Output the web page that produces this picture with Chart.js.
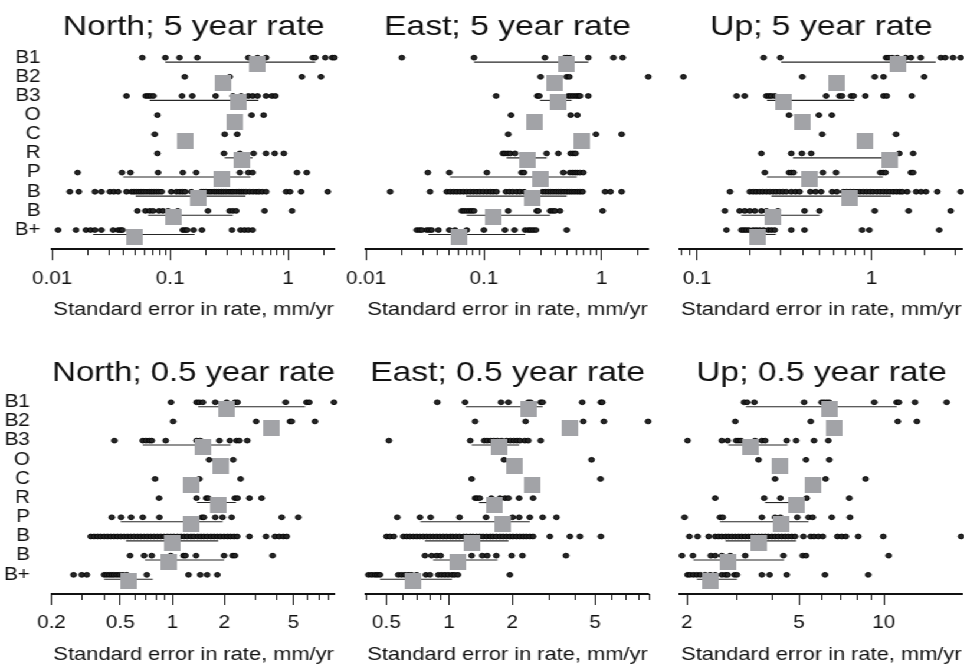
<!DOCTYPE html>
<html><head><meta charset="utf-8">
<script src="https://cdn.jsdelivr.net/npm/chart.js@4.4.1/dist/chart.umd.min.js"></script>
<style>
html,body{margin:0;padding:0;background:#fff;overflow:hidden;width:964px;height:665px}
#wrap{position:absolute;left:0;top:0;width:817px;height:665px;transform:scaleX(1.18);transform-origin:0 0}
#wrap canvas{position:absolute}
</style></head>
<body><div id="wrap"></div>
<script>
// ---------- DATA ----------
const rowNames = ["B1","B2","B3","O","C","R","P","B","B","B+"];
const axisTitle = "Standard error in rate, mm/yr";

// North; 5 year rate
const north5Dots = [
 [0.058,0.091,0.12,0.17,0.46,0.55,0.65,1.62,1.70,2.07,2.37,2.47],
 [0.133,0.32,1.31,1.90],
 [0.0426,0.062,0.065,0.068,0.072,0.126,0.154,0.243,0.34,0.40,0.46,0.50,0.55,0.65,0.73,0.78],
 [0.078,0.49,0.62],
 [0.074,0.29,0.37],
 [0.078,0.286,0.39,0.51,0.65,0.77,0.92],
 [0.0164,0.039,0.046,0.079,0.128,0.166,0.39,0.46,0.50,1.19,1.44],
 [0.0141,0.0168,0.023,0.0261,0.0308,0.0333,0.0362,0.0426,0.0469,0.0491,0.0517,0.0544,0.057,0.0597,0.0628,0.0662,0.0693,0.0725,0.0764,0.0804,0.0847,0.102,0.113,0.12,0.127,0.134,0.151,0.184,0.192,0.202,0.213,0.223,0.235,0.246,0.259,0.271,0.284,0.299,0.315,0.33,0.345,0.363,0.383,0.40,0.419,0.441,0.471,0.502,0.536,0.565,0.603,0.652,0.962,1.04,1.29,2.17],
 [0.0527,0.0616,0.0671,0.0716,0.0804,0.0869,0.0959,0.116,0.209,0.319,0.34,0.363,0.631,1.08],
 [0.0112,0.0159,0.0193,0.0211,0.023,0.0261,0.0328,0.0362,0.0379,0.0394,0.128,0.134,0.139,0.158,0.186,0.334,0.395,0.427,0.46,0.50]
];
const north5Median = [0.55,0.28,0.38,0.35,0.133,0.41,0.275,0.173,0.106,0.0494];
const north5Low  = [0.091,null,0.067,null,null,0.29,0.040,0.051,0.0649,0.0222];
const north5High = [1.70,null,0.56,null,null,0.50,0.48,0.435,0.34,0.161];
const north5Limits = [0.01,2.5];
const north5Ticks = [0.01,0.1,1];
const north5TickLabels = ["0.01","0.1","1"];
const north5Minor = [0.02,0.03,0.04,0.05,0.06,0.07,0.08,0.09,0.2,0.3,0.4,0.5,0.6,0.7,0.8,0.9,2];

// East; 5 year rate
const east5Dots = [
 [0.0201,0.0825,0.33,0.489,0.512,0.538,0.771,1.26,1.51],
 [0.303,0.505,0.532,2.49],
 [0.127,0.284,0.296,0.521,0.546,0.575,0.606,0.634,0.655,0.771],
 [0.17,0.546,0.622],
 [0.161,0.895,1.48],
 [0.145,0.151,0.159,0.167,0.184,0.341,0.429,0.546,0.575,0.601],
 [0.0334,0.0509,0.106,0.209,0.219,0.473,0.538,0.567,0.594,0.622,0.655,0.699],
 [0.016,0.0349,0.0484,0.0516,0.0551,0.0588,0.0628,0.067,0.0715,0.0763,0.0814,0.0869,0.0927,0.099,0.106,0.113,0.12,0.128,0.154,0.165,0.176,0.19,0.203,0.219,0.316,0.333,0.351,0.369,0.389,0.41,0.432,0.455,0.479,0.505,0.532,0.56,0.59,0.622,0.655,0.69,1.07,1.19,1.48],
 [0.0648,0.0679,0.0715,0.0753,0.0788,0.0825,0.161,0.281,0.29,0.365,0.384,0.402,0.443,1.02],
 [0.0269,0.0284,0.0297,0.0327,0.0344,0.0361,0.0411,0.0509,0.0569,0.0715,0.10,0.151,0.182,0.224,0.239,0.25,0.263,0.277,0.505]
];
const east5Median = [0.505,0.402,0.429,0.272,0.677,0.234,0.30,0.258,0.12,0.0608];
const east5Low  = [0.0825,null,0.30,null,null,0.156,0.0516,0.0706,0.0715,0.0338];
const east5High = [0.771,null,0.556,null,null,0.341,0.614,0.505,0.365,0.224];
const east5Limits = [0.01,2.52];
const east5Ticks = [0.01,0.1,1];
const east5TickLabels = ["0.01","0.1","1"];
const east5Minor = [0.02,0.03,0.04,0.05,0.06,0.07,0.08,0.09,0.2,0.3,0.4,0.5,0.6,0.7,0.8,0.9,2];

// Up; 5 year rate
const up5Dots = [
 [0.24,0.299,1.21,1.25,1.31,1.40,1.57,1.68,1.91,2.49,2.64,2.93,3.24],
 [0.0832,0.40,1.04,1.17,2.00],
 [0.168,0.187,0.249,0.258,0.266,0.278,0.548,0.653,0.676,0.762,0.789,0.92,1.17,1.22,1.70],
 [0.336,0.498,0.591],
 [0.52,1.38],
 [0.233,0.346,0.398,0.45,1.44,1.73],
 [0.244,0.336,0.346,0.357,0.525,0.625,1.12,1.16,1.20,1.68,1.73],
 [0.154,0.2,0.209,0.218,0.228,0.238,0.249,0.26,0.272,0.284,0.297,0.31,0.324,0.346,0.366,0.386,0.445,0.477,0.513,0.593,0.631,0.689,0.72,0.752,0.786,0.821,0.858,0.896,0.936,0.978,1.02,1.07,1.12,1.17,1.22,1.27,1.33,1.39,1.45,1.50,1.60,1.80,1.92,2.05,2.38,3.24],
 [0.144,0.175,0.187,0.2,0.214,0.233,0.249,0.29,0.412,0.502,1.04,1.63,2.84],
 [0.147,0.179,0.185,0.191,0.198,0.209,0.218,0.228,0.24,0.255,0.266,0.278,0.346,0.412,0.881,0.97,2.44]
];
const up5Median = [1.41,0.625,0.314,0.398,0.92,1.26,0.437,0.752,0.272,0.22];
const up5Low  = [0.303,null,0.251,null,null,0.354,0.251,0.266,0.179,0.209];
const up5High = [2.33,null,0.796,null,null,1.36,1.16,1.29,0.502,0.282];
const up5Limits = [0.0796,3.33];
const up5Ticks = [0.1,1];
const up5TickLabels = ["0.1","1"];
const up5Minor = [0.08,0.09,0.2,0.3,0.4,0.5,0.6,0.7,0.8,0.9,2,3];

// North; 0.5 year rate
const north05Dots = [
 [0.982,1.38,1.43,1.50,1.77,2.06,2.30,2.38,4.52,5.97,6.19,8.60],
 [1.01,3.05,4.79,4.90,6.68],
 [0.462,0.674,0.705,0.736,0.76,0.915,1.38,1.45,1.87,2.15,2.35,2.44,2.71],
 [1.63,2.25],
 [0.794,1.43,2.48],
 [0.838,1.38,1.57,1.61,2.30,2.38,2.79,3.28],
 [0.446,0.505,0.577,0.674,0.841,1.48,1.52,1.77,1.95,2.20,4.29,5.35],
 [0.337,0.353,0.369,0.385,0.403,0.421,0.44,0.46,0.481,0.503,0.526,0.55,0.574,0.60,0.628,0.656,0.686,0.717,0.749,0.783,0.819,0.856,0.895,0.936,0.978,1.02,1.07,1.12,1.17,1.22,1.28,1.33,1.40,1.46,1.52,1.59,1.67,1.74,1.82,1.90,1.99,2.08,2.17,2.27,2.37,2.79,3.48,3.92,4.15,4.38,4.58],
 [0.569,0.686,0.76,0.978,1.16,1.19,1.37,1.99,2.23,2.30,3.80],
 [0.268,0.299,0.32,0.403,0.417,0.432,0.446,0.46,0.477,0.494,0.517,0.545,0.711,1.24,1.45,1.59,1.82]
];
const north05Median = [2.06,3.75,1.51,1.89,1.28,1.84,1.28,1.0,0.96,0.557];
const north05Low  = [1.41,null,0.674,null,null,1.39,0.503,0.54,0.695,0.403];
const north05High = [5.85,null,2.17,null,null,2.33,1.95,1.84,1.99,0.77];
const north05Limits = [0.202,8.72];
const north05Ticks = [0.2,0.5,1,2,5];
const north05TickLabels = ["0.2","0.5","1","2","5"];
const north05Minor = [0.3,0.4,0.6,0.7,0.8,0.9,3,4,6,7,8];

// East; 0.5 year rate
const east05Dots = [
 [0.876,1.19,1.77,1.92,2.39,2.45,2.74,2.80,4.33,5.32,5.40],
 [1.33,2.32,4.38,5.50,8.95],
 [0.514,1.26,1.47,1.52,1.58,1.64,1.70,1.78,1.88,1.96,2.04,2.11,2.18,2.30,2.39,2.74],
 [1.83,4.80],
 [1.28,5.30],
 [1.33,1.36,1.40,1.59,1.75,1.85,1.92,2.16,2.52],
 [0.564,0.724,0.814,1.12,1.50,2.01,2.16,2.43,2.80,3.26],
 [0.501,0.52,0.543,0.603,0.625,0.648,0.673,0.698,0.724,0.751,0.779,0.808,0.838,0.87,0.902,0.936,0.971,1.01,1.04,1.08,1.12,1.17,1.21,1.26,1.30,1.35,1.40,1.45,1.51,1.57,1.62,1.68,1.75,1.81,1.88,1.95,2.02,2.10,2.18,2.26,2.34,2.43,2.52,3.03,3.78,4.22,5.32],
 [0.765,0.823,0.87,0.909,1.28,1.44,1.52,1.68,1.99,2.24,3.62],
 [0.41,0.425,0.441,0.453,0.466,0.57,0.591,0.613,0.637,0.66,0.698,0.773,0.808,0.886,0.919,0.953,0.989,1.03,1.06,1.10,1.95]
];
const east05Median = [2.39,3.78,1.73,2.04,2.48,1.65,1.81,1.28,1.10,0.673];
const east05Low  = [1.20,null,1.28,null,null,1.39,0.729,0.765,0.838,0.466];
const east05High = [2.80,null,2.16,null,null,1.75,2.43,1.92,1.70,1.03];
const east05Limits = [0.40,9.03];
const east05Ticks = [0.5,1,2,5];
const east05TickLabels = ["0.5","1","2","5"];
const east05Minor = [0.4,0.6,0.7,0.8,0.9,3,4,6,7,8,9];

// Up; 0.5 year rate
const up05Dots = [
 [3.19,3.27,3.47,5.21,6.01,6.13,6.27,6.40,9.24,11.1,11.3,12.9,16.7],
 [2.97,5.50,11.2,13.1],
 [2.01,2.66,2.79,2.99,3.05,3.11,3.49,3.69,3.79,4.52,4.88,5.65,6.35],
 [3.59,5.29,6.40],
 [4.11,6.21,8.61],
 [2.52,3.76,4.29,5.32,7.54],
 [1.96,2.62,2.68,3.69,4.11,4.29,4.93,5.40,5.59,6.53,7.58],
 [2.04,2.18,2.39,2.52,2.59,2.66,2.74,2.81,2.89,2.97,3.05,3.13,3.22,3.31,3.40,3.49,3.59,3.69,3.79,3.89,4.00,4.11,4.22,4.34,4.46,4.58,4.71,4.84,5.18,5.50,5.65,5.85,6.07,6.84,7.08,7.33,8.11,9.95,18.8],
 [1.92,2.10,2.43,2.52,2.66,2.85,3.22,4.40,5.15,5.29,10.4],
 [2.01,2.05,2.11,2.17,2.23,2.32,2.42,2.52,2.66,2.74,2.79,2.95,3.01,3.69,3.93,4.52,6.18,8.80]
];
const up05Median = [6.40,6.65,3.35,4.26,5.62,4.91,4.31,3.61,2.79,2.42];
const up05Low  = [3.24,null,2.81,null,null,3.79,2.62,2.74,2.11,2.17];
const up05High = [11.1,null,4.55,null,null,5.01,5.40,4.88,4.42,3.01];
const up05Limits = [1.89,19.05];
const up05Ticks = [2,5,10];
const up05TickLabels = ["2","5","10"];
const up05Minor = [3,4,6,7,8,9];

// ---------- CHARTS ----------
const FONT = "'Liberation Sans', Arial, Helvetica, sans-serif";
const INK = '#111111';
const panels = [
 {title:'North; 5 year rate', dots:north5Dots, med:north5Median, lo:north5Low, hi:north5High, lim:north5Limits, ticks:north5Ticks, labels:north5TickLabels, minor:north5Minor, col:0, row:0},
 {title:'East; 5 year rate', dots:east5Dots, med:east5Median, lo:east5Low, hi:east5High, lim:east5Limits, ticks:east5Ticks, labels:east5TickLabels, minor:east5Minor, col:1, row:0},
 {title:'Up; 5 year rate', dots:up5Dots, med:up5Median, lo:up5Low, hi:up5High, lim:up5Limits, ticks:up5Ticks, labels:up5TickLabels, minor:up5Minor, col:2, row:0},
 {title:'North; 0.5 year rate', dots:north05Dots, med:north05Median, lo:north05Low, hi:north05High, lim:north05Limits, ticks:north05Ticks, labels:north05TickLabels, minor:north05Minor, col:0, row:1},
 {title:'East; 0.5 year rate', dots:east05Dots, med:east05Median, lo:east05Low, hi:east05High, lim:east05Limits, ticks:east05Ticks, labels:east05TickLabels, minor:east05Minor, col:1, row:1},
 {title:'Up; 0.5 year rate', dots:up05Dots, med:up05Median, lo:up05Low, hi:up05High, lim:up05Limits, ticks:up05Ticks, labels:up05TickLabels, minor:up05Minor, col:2, row:1}
];

const colLeft = [0, 265.9, 532.0];
const side = 44.3;
const plotW = 239.6;
const canvasW = 328;
const rowGeom = [
 {top:0, h:322, tTop:9.7, tBot:4.2, padBottom:0.8, yPad:10},
 {top:330, h:336, tTop:26.3, tBot:2.2, padBottom:0, yPad:19}
];
const AXIS_H = 72;

// grey square marker
const sq = document.createElement('canvas');
sq.width = 14; sq.height = 16;
{ const c = sq.getContext('2d'); c.fillStyle = '#a2a3a7'; c.fillRect(0,0,14,16); }

const minorTicks = {
  id: 'minorTicks',
  afterDraw(chart, args, opts) {
    const xs = chart.scales.x; const ctx = chart.ctx;
    ctx.save(); ctx.strokeStyle = INK; ctx.lineWidth = 1; ctx.beginPath();
    (opts.values || []).forEach(v => {
      const px = Math.round(xs.getPixelForValue(v)) + 0.5;
      ctx.moveTo(px, xs.top); ctx.lineTo(px, xs.top + opts.length);
    });
    ctx.stroke(); ctx.restore();
  }
};

const wrap = document.getElementById('wrap');
panels.forEach(p => {
  const g = rowGeom[p.row];
  const cv = document.createElement('canvas');
  cv.width = canvasW; cv.height = g.h;
  cv.style.left = colLeft[p.col] + 'px'; cv.style.top = g.top + 'px';
  wrap.appendChild(cv);

  const datasets = [];
  datasets.push({
    label: 'median', order: 0, clip: false,
    data: p.med.map((v, i) => ({x: v, y: i + 1.34})),
    pointStyle: sq, pointRadius: 8, pointHoverRadius: 8
  });
  const dots = [];
  p.dots.forEach((arr, i) => arr.forEach(v => dots.push({x: v, y: i + 1})));
  datasets.push({
    label: 'stations', order: 1, clip: false, data: dots,
    pointRadius: 2.4, backgroundColor: '#262626', borderColor: '#000', borderWidth: 0.9
  });
  p.lo.forEach((lo, i) => {
    if (lo == null) return;
    datasets.push({
      label: 'range ' + rowNames[i], order: 2, clip: false, showLine: true,
      data: [{x: lo, y: i + 1.23}, {x: p.hi[i], y: i + 1.23}],
      pointRadius: 0, borderColor: '#262626', borderWidth: 1.1
    });
  });

  const showY = p.col === 0;
  new Chart(cv, {
    type: 'scatter',
    data: {datasets},
    plugins: [minorTicks],
    options: {
      responsive: false, animation: false, devicePixelRatio: 1, events: [],
      layout: {padding: {left: showY ? 0 : side, right: canvasW - side - plotW, top: 0, bottom: g.padBottom}},
      plugins: {
        legend: {display: false}, tooltip: {enabled: false},
        title: {display: true, fullSize: false, text: p.title, color: INK,
                font: {family: FONT, size: 28.5, weight: 'normal', lineHeight: 1.2},
                padding: {top: g.tTop, bottom: g.tBot}},
        minorTicks: {values: p.minor, length: 6}
      },
      scales: {
        x: {
          type: 'logarithmic', min: p.lim[0], max: p.lim[1],
          afterBuildTicks: s => { s.ticks = p.ticks.map(v => ({value: v})); },
          afterFit: s => { s.height = AXIS_H; },
          ticks: {autoSkip: false, maxRotation: 0, padding: 8, color: INK,
                  font: {family: FONT, size: 17.5},
                  callback: (v, idx) => p.labels[idx]},
          grid: {display: true, drawOnChartArea: false, drawTicks: true, tickLength: 11, color: INK, lineWidth: 1},
          border: {display: true, color: INK, width: 2},
          title: {display: true, text: axisTitle, color: INK, padding: {top: 0, bottom: 0},
                  font: {family: FONT, size: 18.5}}
        },
        y: {
          type: 'linear', min: 0.5, max: 11, reverse: true, display: showY,
          afterBuildTicks: s => { s.ticks = rowNames.map((n, i) => ({value: i + 1})); },
          afterFit: s => { s.width = showY ? side : 0; },
          ticks: {autoSkip: false, padding: g.yPad, color: INK,
                  font: {family: FONT, size: 17.5, lineHeight: 1},
                  callback: (v, idx) => rowNames[idx]},
          grid: {display: false, drawTicks: false},
          border: {display: false}
        }
      }
    }
  });
});
</script>
</body></html>
